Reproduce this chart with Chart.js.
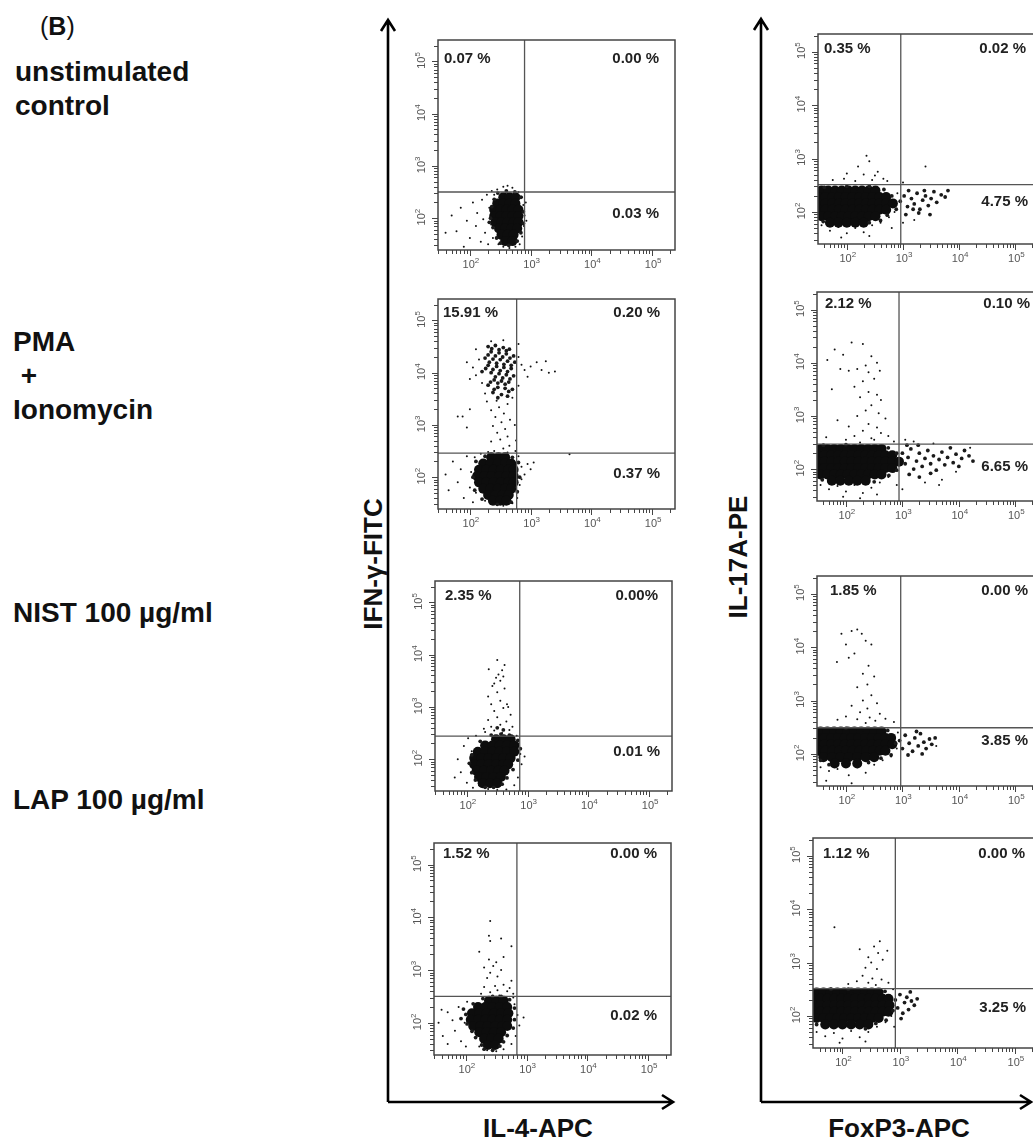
<!DOCTYPE html>
<html>
<head>
<meta charset="utf-8">
<script src="https://cdn.jsdelivr.net/npm/chart.js@4.4.1/dist/chart.umd.min.js"></script>
<style>
  html, body { margin: 0; padding: 0; background: #fff; }
  body { width: 1033px; height: 1142px; position: relative; overflow: hidden;
         font-family: "Liberation Sans", Arial, sans-serif; color: #111; }
  .lbl { position: absolute; font-size: 28px; font-weight: bold; line-height: 34px; white-space: pre; }
  .pct { position: absolute; font-size: 15px; font-weight: bold; line-height: 18px; color: #222;
         white-space: nowrap; width: 90px; }
  .axt { position: absolute; font-size: 26px; font-weight: bold; line-height: 30px; white-space: nowrap; }
  canvas { position: absolute; }
</style>
</head>
<body>
<div class="lbl" style="left:40px;top:11px;font-size:25px;font-weight:normal;line-height:30px">(<b>B</b>)</div>

<svg width="1033" height="1142" style="position:absolute;left:0;top:0">
  <g stroke="#000" stroke-width="2.6" fill="none">
    <path d="M388 1102 V21 M381 31 L388 20 L395 31 M388 1102 H672 M662 1095 L673 1102 L662 1109"/>
    <path d="M761 1102 V20 M754 30 L761 19 L768 30 M761 1102 H1030 M1020 1095 L1031 1102 L1020 1109"/>
  </g>
</svg>

<div class="axt" style="left:373px;top:564px;transform:translate(-50%,-50%) rotate(-90deg)">IFN-γ-FITC</div>
<div class="axt" style="left:738px;top:557px;transform:translate(-50%,-50%) rotate(-90deg)">IL-17A-PE</div>
<div class="axt" style="left:538px;top:1128px;transform:translate(-50%,-50%)">IL-4-APC</div>
<div class="axt" style="left:899px;top:1128px;transform:translate(-50%,-50%)">FoxP3-APC</div>

<script>
// all values are log10 of fluorescence intensity
const treatments = ['unstimulated\ncontrol', 'PMA\n +\nIonomycin', 'NIST 100 µg/ml', 'LAP 100 µg/ml'];
const decadeTicks = [2, 3, 4, 5];

// quadrant percentages: [upper-left, upper-right, lower-right]
const ifnPercents = [['0.07 %', '0.00 %', '0.03 %'], ['15.91 %', '0.20 %', '0.37 %'],
                     ['2.35 %', '0.00%', '0.01 %'], ['1.52 %', '0.00 %', '0.02 %']];
const il17Percents = [['0.35 %', '0.02 %', '4.75 %'], ['2.12 %', '0.10 %', '6.65 %'],
                      ['1.85 %', '0.00 %', '3.85 %'], ['1.12 %', '0.00 %', '3.25 %']];

// quadrant gates [x, y]
const ifnGates = [[2.90, 2.50], [2.77, 2.46], [2.87, 2.44], [2.84, 2.50]];
const il17Gates = [[2.96, 2.51], [2.94, 2.47], [2.97, 2.49], [2.92, 2.51]];

// IFN-gamma (y) vs IL-4 (x). dense cores as rows [y, [x...]]
const ifnCtrlCore = [
  [2.40, [2.55, 2.65, 2.75]], [2.28, [2.45, 2.55, 2.65, 2.75]],
  [2.16, [2.40, 2.50, 2.60, 2.70, 2.80]], [2.04, [2.40, 2.50, 2.60, 2.70, 2.80]],
  [1.92, [2.42, 2.52, 2.62, 2.72, 2.80]], [1.80, [2.48, 2.58, 2.68, 2.78]],
  [1.68, [2.52, 2.62, 2.72]], [1.56, [2.58, 2.70]]];
const ifnCtrlMid = [
  [2.46, 2.48], [2.60, 2.52], [2.74, 2.50], [2.84, 2.40], [2.36, 2.22], [2.88, 2.12], [2.34, 2.00],
  [2.88, 1.90], [2.38, 1.82], [2.84, 1.72], [2.44, 1.62], [2.78, 1.56], [2.50, 1.52], [2.64, 1.48],
  [2.40, 2.36], [2.32, 1.92]];
const ifnCtrlDots = [
  [1.70, 2.05], [1.78, 1.75], [1.85, 2.20], [1.95, 1.95], [2.00, 1.62], [2.05, 2.30], [2.10, 1.85],
  [2.12, 2.10], [2.18, 1.55], [2.20, 2.35], [2.22, 1.98], [2.25, 1.72], [2.28, 2.45], [2.30, 1.50],
  [2.32, 2.20], [2.35, 1.88], [2.36, 2.52], [2.38, 1.62], [2.45, 2.55], [2.55, 2.60], [2.62, 2.62],
  [2.70, 2.58], [2.80, 2.50], [2.86, 2.40], [2.88, 2.25], [2.90, 2.05], [2.89, 1.85], [2.86, 1.65],
  [2.82, 1.50], [2.75, 1.45], [2.65, 1.43], [2.55, 1.45], [2.47, 1.50], [2.44, 1.75], [2.40, 2.45],
  [2.92, 2.30], [2.93, 1.95], [1.60, 1.72], [1.90, 1.45]];

const ifnPmaCore = [
  [2.38, [2.35, 2.47, 2.58]], [2.26, [2.22, 2.34, 2.46, 2.58, 2.68]],
  [2.14, [2.15, 2.27, 2.39, 2.51, 2.63, 2.72]], [2.02, [2.12, 2.24, 2.36, 2.48, 2.60, 2.72]],
  [1.90, [2.15, 2.27, 2.39, 2.51, 2.63, 2.72]], [1.78, [2.22, 2.34, 2.46, 2.58, 2.68]],
  [1.66, [2.30, 2.42, 2.54, 2.64]], [1.55, [2.38, 2.50, 2.60]]];
const ifnPmaMid = [
  [2.30, 4.50], [2.42, 4.52], [2.55, 4.48], [2.65, 4.45], [2.35, 4.40], [2.48, 4.38], [2.60, 4.36],
  [2.72, 4.32], [2.25, 4.28], [2.38, 4.26], [2.50, 4.25], [2.62, 4.22], [2.74, 4.20], [2.30, 4.14],
  [2.44, 4.12], [2.56, 4.10], [2.68, 4.08], [2.20, 4.02], [2.35, 4.00], [2.48, 3.98], [2.60, 3.96],
  [2.72, 3.94], [2.40, 3.86], [2.52, 3.84], [2.64, 3.82], [2.30, 3.76], [2.46, 3.72], [2.58, 3.70],
  [2.70, 3.68], [2.38, 3.62], [2.52, 3.58], [2.62, 3.55],
  [2.36, 4.46], [2.48, 4.44], [2.60, 4.42], [2.30, 4.34], [2.42, 4.32], [2.54, 4.30], [2.66, 4.28],
  [2.32, 4.20], [2.44, 4.18], [2.56, 4.16], [2.68, 4.14], [2.26, 4.08], [2.38, 4.06], [2.50, 4.04],
  [2.62, 4.02], [2.42, 3.92], [2.54, 3.90], [2.66, 3.88], [2.34, 3.82], [2.46, 3.80], [2.58, 3.78],
  [2.40, 3.68], [2.64, 3.64], [2.46, 3.52],
  [2.10, 2.30], [2.05, 2.00], [2.08, 1.75], [2.80, 2.28], [2.82, 2.00], [2.78, 1.72], [2.45, 1.48],
  [2.20, 1.58], [2.68, 1.52], [2.25, 2.40], [2.70, 2.38]];
const ifnPmaDots = [
  [2.40, 2.50], [2.55, 2.55], [2.65, 2.60], [2.35, 2.68], [2.50, 2.72], [2.62, 2.78], [2.45, 2.85],
  [2.58, 2.92], [2.38, 2.98], [2.52, 3.05], [2.66, 3.10], [2.42, 3.15], [2.56, 3.22], [2.35, 3.28],
  [2.48, 3.34], [2.62, 3.40], [2.44, 3.46], [2.70, 3.52], [2.28, 3.45], [2.76, 2.70], [2.74, 3.00],
  [2.05, 4.10], [2.10, 3.95], [2.15, 4.25], [2.20, 3.80], [2.00, 3.88], [2.80, 4.30], [2.85, 4.15],
  [2.90, 4.05], [3.00, 4.12], [3.10, 4.20], [3.18, 4.05], [3.25, 4.22], [3.30, 4.00], [3.40, 4.02],
  [2.95, 3.92], [2.35, 4.60], [2.55, 4.62], [2.80, 4.55], [2.10, 4.45], [1.95, 4.20], [2.25, 3.60],
  [2.80, 3.75], [1.80, 3.16], [1.88, 3.16], [1.95, 2.95], [2.00, 3.30],
  [1.60, 2.05], [1.65, 1.75], [1.72, 2.30], [1.80, 1.90], [1.85, 2.15], [1.90, 1.60], [1.95, 2.40],
  [2.00, 1.80], [2.02, 2.10], [2.05, 1.52], [2.08, 2.38], [2.10, 1.70], [2.80, 2.40], [2.85, 2.20],
  [2.90, 2.05], [2.95, 2.25], [3.00, 2.15], [3.05, 2.28], [2.82, 1.85], [2.78, 1.60], [2.70, 1.50],
  [2.55, 1.45], [2.40, 1.48], [2.25, 1.55], [2.18, 2.45], [2.30, 2.48], [2.62, 2.47], [2.75, 2.50],
  [3.64, 2.44], [2.85, 1.96]];

const ifnNistCore = [
  [2.38, [2.48, 2.60, 2.72]], [2.26, [2.30, 2.42, 2.54, 2.66, 2.78]],
  [2.14, [2.18, 2.30, 2.42, 2.54, 2.66, 2.78]], [2.02, [2.12, 2.24, 2.36, 2.48, 2.60, 2.72]],
  [1.90, [2.12, 2.24, 2.36, 2.48, 2.60, 2.68]], [1.78, [2.16, 2.28, 2.40, 2.52, 2.62]],
  [1.66, [2.20, 2.32, 2.44, 2.56]], [1.54, [2.26, 2.38, 2.50]]];
const ifnNistMid = [
  [2.40, 2.46], [2.56, 2.48], [2.70, 2.46], [2.84, 2.36], [2.22, 2.34], [2.88, 2.20], [2.08, 2.08],
  [2.84, 1.98], [2.04, 1.92], [2.76, 1.80], [2.08, 1.74], [2.66, 1.64], [2.14, 1.60], [2.58, 1.52],
  [2.30, 1.46], [2.44, 1.46], [2.60, 2.56], [2.50, 2.60]];
const ifnNistDots = [
  [2.30, 2.52], [2.45, 2.55], [2.58, 2.50], [2.70, 2.56], [2.40, 2.62], [2.55, 2.66], [2.65, 2.72],
  [2.35, 2.75], [2.50, 2.80], [2.72, 2.85], [2.45, 2.92], [2.60, 2.98], [2.40, 3.05], [2.55, 3.12],
  [2.68, 3.00], [2.35, 3.20], [2.50, 3.28], [2.62, 3.35], [2.45, 3.45], [2.55, 3.50], [2.48, 3.56],
  [2.60, 3.58], [2.52, 3.62], [2.42, 3.40], [2.58, 3.70], [2.36, 3.72], [2.62, 3.80], [2.50, 3.90],
  [2.66, 3.05], [2.75, 2.62], [2.28, 2.58],
  [1.85, 2.00], [1.90, 1.75], [1.95, 2.25], [2.00, 1.55], [2.02, 2.40], [2.05, 1.90], [2.08, 2.15],
  [2.10, 1.45], [2.85, 2.30], [2.88, 2.10], [2.90, 1.90], [2.84, 1.65], [2.78, 1.50], [2.65, 1.42],
  [2.50, 1.41], [2.35, 1.43], [2.20, 1.50], [2.82, 2.45], [2.15, 2.45], [1.80, 1.65], [2.95, 2.05]];

const ifnLapCore = [
  [2.42, [2.38, 2.50, 2.62]], [2.30, [2.20, 2.32, 2.44, 2.56, 2.68]],
  [2.18, [2.10, 2.22, 2.34, 2.46, 2.58, 2.70]], [2.06, [2.08, 2.20, 2.32, 2.44, 2.56, 2.68]],
  [1.94, [2.12, 2.24, 2.36, 2.48, 2.60, 2.68]], [1.82, [2.22, 2.34, 2.46, 2.58]],
  [1.70, [2.30, 2.42, 2.54]], [1.58, [2.36, 2.48]]];
const ifnLapMid = [
  [2.28, 2.46], [2.44, 2.50], [2.58, 2.50], [2.72, 2.44], [2.12, 2.36], [2.80, 2.28], [2.00, 2.16],
  [2.80, 2.06], [2.02, 1.98], [2.78, 1.90], [2.10, 1.84], [2.68, 1.76], [2.16, 1.72], [2.62, 1.64],
  [2.26, 1.58], [2.56, 1.56], [2.30, 1.50], [2.44, 1.48], [1.92, 2.08], [1.96, 2.26]];
const ifnLapDots = [
  [2.25, 2.55], [2.40, 2.58], [2.55, 2.52], [2.68, 2.60], [2.78, 2.55], [2.30, 2.68], [2.48, 2.70],
  [2.62, 2.72], [2.75, 2.80], [2.35, 2.85], [2.52, 2.88], [2.40, 2.95], [2.58, 3.00], [2.45, 3.08],
  [2.30, 3.05], [2.50, 3.15], [2.38, 3.20], [2.62, 3.25], [2.22, 3.35], [2.75, 3.45], [2.40, 3.55],
  [2.38, 3.65], [2.58, 3.60], [2.40, 3.93], [2.52, 2.62], [2.72, 2.66],
  [1.55, 2.00], [1.62, 1.75], [1.70, 2.20], [1.78, 2.05], [1.82, 1.85], [1.88, 2.30], [1.92, 1.65],
  [1.98, 2.00], [2.02, 2.40], [2.00, 1.55], [1.60, 2.25], [1.70, 1.60],
  [2.80, 2.35], [2.85, 2.15], [2.88, 1.95], [2.82, 1.75], [2.75, 1.60], [2.62, 1.50], [2.50, 1.46],
  [2.35, 1.48], [2.22, 1.55], [2.95, 2.10], [2.78, 2.48]];

// IL-17A (y) vs FoxP3 (x)
const il17CtrlCore = [
  [2.40, [1.55, 1.67, 1.79, 1.91, 2.03, 2.15, 2.27, 2.39, 2.51]],
  [2.28, [1.50, 1.62, 1.74, 1.86, 1.98, 2.10, 2.22, 2.34, 2.46, 2.58, 2.70]],
  [2.16, [1.50, 1.62, 1.74, 1.86, 1.98, 2.10, 2.22, 2.34, 2.46, 2.58, 2.70, 2.82]],
  [2.04, [1.50, 1.62, 1.74, 1.86, 1.98, 2.10, 2.22, 2.34, 2.46, 2.58, 2.70]],
  [1.92, [1.55, 1.67, 1.79, 1.91, 2.03, 2.15, 2.27, 2.39, 2.51]],
  [1.80, [1.70, 1.85, 2.00, 2.15, 2.30]]];
const il17CtrlMid = [
  [2.95, 2.20], [3.02, 2.30], [3.08, 2.10], [3.15, 2.25], [3.20, 2.15], [3.25, 2.35], [3.30, 2.05],
  [3.35, 2.22], [3.40, 2.30], [3.45, 2.12], [3.50, 2.25], [3.55, 2.38], [3.60, 2.18], [3.68, 2.32],
  [3.75, 2.28], [3.80, 2.40], [3.10, 2.40], [3.28, 1.98], [3.48, 1.95], [3.05, 1.95], [3.18, 2.05],
  [3.38, 2.40], [2.66, 2.42], [2.80, 2.30], [2.88, 2.05], [2.72, 1.94], [2.60, 1.84], [2.40, 1.80],
  [1.58, 1.82], [1.60, 2.46], [2.00, 2.48], [2.40, 2.48]];
const il17CtrlDots = [
  [1.75, 2.60], [1.95, 2.62], [2.15, 2.58], [2.30, 2.70], [2.45, 2.60], [2.55, 2.75], [2.65, 2.62],
  [2.72, 2.58], [2.20, 2.85], [2.40, 2.95], [2.35, 3.05], [2.50, 2.68], [3.40, 2.85], [2.00, 2.72],
  [3.00, 2.55], [1.55, 1.75], [1.70, 1.65], [1.85, 1.72], [2.00, 1.60], [2.15, 1.70], [2.30, 1.62],
  [2.45, 1.75], [2.60, 1.80], [2.75, 1.90], [2.85, 2.00], [2.90, 2.35], [1.90, 1.52], [2.40, 1.55],
  [2.80, 1.70], [3.20, 1.85], [3.00, 1.80]];

const il17PmaCore = [
  [2.38, [1.55, 1.67, 1.79, 1.91, 2.03, 2.15, 2.27, 2.39, 2.51, 2.63]],
  [2.26, [1.50, 1.62, 1.74, 1.86, 1.98, 2.10, 2.22, 2.34, 2.46, 2.58, 2.70, 2.82]],
  [2.14, [1.50, 1.62, 1.74, 1.86, 1.98, 2.10, 2.22, 2.34, 2.46, 2.58, 2.70, 2.82, 2.94]],
  [2.02, [1.50, 1.62, 1.74, 1.86, 1.98, 2.10, 2.22, 2.34, 2.46, 2.58, 2.70, 2.82]],
  [1.90, [1.55, 1.67, 1.79, 1.91, 2.03, 2.15, 2.27, 2.39, 2.51, 2.63]],
  [1.78, [1.75, 1.90, 2.05, 2.20, 2.35]]];
const il17PmaMid = [
  [3.00, 2.30], [3.05, 2.10], [3.10, 2.22], [3.15, 2.38], [3.20, 2.00], [3.25, 2.15], [3.30, 2.30],
  [3.35, 2.05], [3.40, 2.20], [3.45, 2.35], [3.50, 2.10], [3.55, 2.25], [3.60, 1.98], [3.65, 2.18],
  [3.70, 2.32], [3.75, 2.08], [3.80, 2.22], [3.85, 2.40], [3.90, 2.12], [3.95, 2.28], [4.00, 2.05],
  [4.05, 2.20], [4.10, 2.35], [4.18, 2.25], [4.25, 2.15], [3.12, 1.90], [3.30, 1.85], [3.50, 1.92],
  [3.08, 2.45], [3.28, 2.45], [2.75, 2.40], [2.90, 2.30], [2.90, 1.98], [2.76, 1.88], [1.58, 1.80],
  [1.60, 2.45], [2.00, 2.46], [2.50, 1.76]];
const il17PmaDots = [
  [3.40, 1.75], [3.70, 1.80], [3.95, 1.95], [4.20, 2.40], [3.55, 2.48], [3.20, 2.52], [3.05, 2.55],
  [3.65, 1.70],
  [1.67, 4.05], [1.80, 4.25], [1.95, 4.15], [2.10, 4.38], [2.30, 4.35], [2.45, 4.12], [2.55, 4.00],
  [2.35, 3.95], [2.20, 3.88], [2.05, 3.85], [1.90, 3.88], [2.40, 3.82], [2.60, 3.85], [2.50, 3.70],
  [2.30, 3.65], [2.15, 3.55], [1.75, 3.50], [2.40, 3.45], [2.55, 3.40], [2.25, 3.35], [2.62, 3.30],
  [2.45, 3.20], [2.35, 3.10], [2.58, 3.05], [2.20, 3.00], [2.70, 2.95], [1.85, 2.92], [2.05, 2.80],
  [2.40, 2.85], [2.55, 2.78], [2.30, 2.72], [2.62, 2.68], [1.65, 2.60], [2.15, 2.62], [2.45, 2.58],
  [2.75, 2.62], [2.00, 2.55], [2.85, 2.52], [2.50, 2.55], [2.25, 2.50],
  [1.55, 1.70], [1.70, 1.62], [1.85, 1.68], [2.00, 1.58], [2.15, 1.70], [2.30, 1.55], [2.45, 1.65],
  [2.60, 1.75], [2.75, 1.85], [2.85, 1.95], [1.95, 1.48], [2.25, 1.45], [2.55, 1.52], [2.90, 1.70],
  [3.00, 1.62]];

const il17NistCore = [
  [2.42, [1.55, 1.67, 1.79, 1.91, 2.03, 2.15, 2.27, 2.39, 2.51, 2.63]],
  [2.30, [1.50, 1.62, 1.74, 1.86, 1.98, 2.10, 2.22, 2.34, 2.46, 2.58, 2.70, 2.80]],
  [2.18, [1.50, 1.62, 1.74, 1.86, 1.98, 2.10, 2.22, 2.34, 2.46, 2.58, 2.70, 2.82]],
  [2.06, [1.52, 1.64, 1.76, 1.88, 2.00, 2.12, 2.24, 2.36, 2.48, 2.60, 2.70]],
  [1.94, [1.60, 1.75, 1.90, 2.05, 2.20, 2.35, 2.50]],
  [1.82, [1.80, 2.00, 2.20]]];
const il17NistMid = [
  [2.95, 2.25], [3.00, 2.10], [3.05, 2.35], [3.12, 2.20], [3.18, 2.05], [3.22, 2.30], [3.28, 2.15],
  [3.32, 2.38], [3.38, 2.22], [3.42, 2.10], [3.48, 2.28], [3.52, 2.18], [3.58, 2.30], [3.10, 1.98],
  [3.35, 2.00], [3.25, 2.42], [2.74, 2.44], [2.88, 2.20], [2.80, 1.98], [2.62, 1.92], [1.55, 1.88],
  [1.70, 1.80], [2.40, 1.84], [2.00, 2.48]];
const il17NistDots = [
  [1.84, 3.72], [1.92, 4.25], [2.00, 4.05], [2.10, 4.30], [2.20, 4.33], [2.28, 4.25], [2.35, 4.12],
  [2.15, 3.88], [2.05, 3.80], [2.45, 4.05], [2.40, 3.65], [2.30, 3.50], [2.50, 3.45], [2.38, 3.30],
  [2.20, 3.25], [2.45, 3.10], [2.30, 3.00], [2.55, 2.95], [2.10, 2.90], [2.38, 2.85], [2.25, 2.78],
  [2.60, 2.75], [2.00, 2.70], [2.42, 2.68], [2.20, 2.65], [2.52, 2.62], [1.85, 2.64], [2.70, 2.66],
  [2.35, 2.58], [2.85, 2.60],
  [1.55, 1.75], [1.70, 1.68], [1.85, 1.72], [2.05, 1.60], [2.20, 1.75], [2.35, 1.65], [2.50, 1.80],
  [2.65, 1.88], [2.80, 1.95], [1.65, 1.50], [2.10, 1.45], [2.90, 2.10], [2.92, 2.40], [3.60, 2.15]];

const il17LapCore = [
  [2.44, [1.55, 1.67, 1.79, 1.91, 2.03, 2.15, 2.27, 2.39, 2.51, 2.63]],
  [2.32, [1.50, 1.62, 1.74, 1.86, 1.98, 2.10, 2.22, 2.34, 2.46, 2.58, 2.70, 2.80]],
  [2.20, [1.50, 1.62, 1.74, 1.86, 1.98, 2.10, 2.22, 2.34, 2.46, 2.58, 2.70, 2.82]],
  [2.08, [1.50, 1.62, 1.74, 1.86, 1.98, 2.10, 2.22, 2.34, 2.46, 2.58, 2.70, 2.80]],
  [1.96, [1.55, 1.67, 1.79, 1.91, 2.03, 2.15, 2.27, 2.39, 2.51, 2.63]],
  [1.84, [1.70, 1.85, 2.00, 2.15, 2.30, 2.45]]];
const il17LapMid = [
  [2.92, 2.30], [2.96, 2.15], [3.00, 2.40], [3.05, 2.05], [3.08, 2.25], [3.12, 2.35], [3.15, 2.12],
  [3.20, 2.28], [3.25, 2.20], [3.30, 2.32], [3.02, 1.95], [3.18, 2.45], [2.74, 2.46], [2.88, 2.10],
  [2.76, 1.92], [2.58, 1.86], [1.55, 1.84], [2.40, 1.76], [2.10, 2.50], [1.80, 2.50]];
const il17LapDots = [
  [1.86, 3.66], [2.30, 3.25], [2.45, 3.10], [2.55, 3.30], [2.62, 3.18], [2.70, 3.05], [2.78, 3.22],
  [2.65, 3.40], [2.50, 3.00], [2.40, 2.90], [2.60, 2.88], [2.35, 2.75], [2.52, 2.70], [2.68, 2.68],
  [2.25, 2.65], [2.45, 2.62], [2.80, 2.62], [2.10, 2.60], [2.58, 2.58],
  [1.55, 1.70], [1.70, 1.62], [1.85, 1.68], [2.00, 1.58], [2.15, 1.72], [2.30, 1.60], [2.45, 1.70],
  [2.60, 1.80], [2.75, 1.88], [2.85, 2.00], [1.95, 1.50], [2.40, 1.52], [2.88, 2.50], [2.90, 1.80]];

// ---- layout (pixels) ----
const ifnBoxes = [[438, 39, 676, 250], [438, 298, 676, 509], [435, 580, 673, 791], [434, 842, 672, 1055]];
const il17Boxes = [[818, 33, 1040, 244], [817, 291, 1040, 501], [817, 575, 1040, 786], [813, 837, 1040, 1048]];
// [left x of UL label, label row y, right x of UR label, right x of LR label, LR row y]
const ifnLabelPos = [[444, 58, 659, 659, 213], [443, 312, 660, 660, 473], [445, 595, 658, 660, 751], [443, 853, 657, 657, 1015]];
const il17LabelPos = [[824, 48, 1026, 1028, 201], [825, 303, 1030, 1028, 466], [830, 590, 1028, 1028, 740], [823, 853, 1025, 1026, 1007]];
const treatmentTops = [55, 325, 596, 783];

const ifnRange = {x: [1.475, 5.377], y: [1.39, 5.41]};
const il17Range = {x: [1.487, 5.42], y: [1.40, 5.33]};

const expandRows = rows => rows.flatMap(r => r[1].map(x => ({x: x, y: r[0]})));
const toXY = pts => pts.map(p => ({x: p[0], y: p[1]}));

function drawPow(ctx, cx, baseY, exp) {
  ctx.font = '11px "Liberation Sans", Arial, sans-serif';
  const w1 = ctx.measureText('10').width;
  ctx.font = '8px "Liberation Sans", Arial, sans-serif';
  const w2 = ctx.measureText(String(exp)).width;
  const sx = cx - (w1 + w2) / 2 + 1;
  ctx.font = '11px "Liberation Sans", Arial, sans-serif';
  ctx.fillText('10', sx, baseY);
  ctx.font = '8px "Liberation Sans", Arial, sans-serif';
  ctx.fillText(String(exp), sx + w1, baseY - 5);
}

const facsFrame = {
  id: 'facsFrame',
  afterDatasetsDraw(chart, args, opts) {
    const {ctx, chartArea: a, scales: {x, y}} = chart;
    ctx.save();
    const gx = x.getPixelForValue(opts.gate[0]);
    const gy = y.getPixelForValue(opts.gate[1]);
    ctx.strokeStyle = '#555';
    ctx.lineWidth = 1.3;
    ctx.beginPath();
    ctx.moveTo(gx, a.top); ctx.lineTo(gx, a.bottom);
    ctx.moveTo(a.left, gy); ctx.lineTo(a.right, gy);
    ctx.stroke();
    ctx.strokeStyle = '#444';
    ctx.lineWidth = 1.5;
    ctx.strokeRect(a.left, a.top, a.right - a.left, a.bottom - a.top);

    // log ticks
    ctx.strokeStyle = '#444';
    ctx.lineWidth = 1;
    ctx.beginPath();
    for (let d = 1; d <= 5; d++) {
      for (let k = 1; k <= 9; k++) {
        const v = d + Math.log10(k);
        const len = k === 1 ? 6 : 4;
        if (v >= x.min && v <= x.max) {
          const px = Math.round(x.getPixelForValue(v)) + 0.5;
          ctx.moveTo(px, a.bottom); ctx.lineTo(px, a.bottom + len);
        }
        if (v >= y.min && v <= y.max) {
          const py = Math.round(y.getPixelForValue(v)) + 0.5;
          ctx.moveTo(a.left, py); ctx.lineTo(a.left - len, py);
        }
      }
    }
    ctx.stroke();

    ctx.fillStyle = '#555';
    ctx.textAlign = 'left';
    decadeTicks.forEach(d => {
      if (d >= x.min && d <= x.max) drawPow(ctx, x.getPixelForValue(d), a.bottom + 18, d);
      if (d >= y.min && d <= y.max) {
        ctx.save();
        ctx.translate(a.left - 17, y.getPixelForValue(d));
        ctx.rotate(-Math.PI / 2);
        drawPow(ctx, 0, 4, d);
        ctx.restore();
      }
    });
    ctx.restore();
  }
};

function makePlot(box, range, gate, core, mid, dots) {
  const [l, t, r, b] = box;
  const pad = {left: 32, top: 4, right: 4, bottom: 26};
  const w = r - l + pad.left + pad.right;
  const h = b - t + pad.top + pad.bottom;
  const cv = document.createElement('canvas');
  cv.width = w; cv.height = h;
  cv.style.left = (l - pad.left) + 'px';
  cv.style.top = (t - pad.top) + 'px';
  cv.style.width = w + 'px';
  cv.style.height = h + 'px';
  document.body.appendChild(cv);

  const datasets = [
    {data: toXY(dots), pointRadius: 1, backgroundColor: '#111'},
    {data: toXY(mid), pointRadius: 1.9, backgroundColor: '#1a1a1a'},
    {data: expandRows(core), pointRadius: 5, backgroundColor: '#0d0d0d'}
  ].map(ds => Object.assign(ds, {pointBorderWidth: 0, pointHoverRadius: 0, clip: 0}));

  new Chart(cv, {
    type: 'scatter',
    data: {datasets},
    options: {
      responsive: false,
      animation: false,
      events: [],
      layout: {padding: pad},
      plugins: {legend: {display: false}, tooltip: {enabled: false}, facsFrame: {gate}},
      scales: {
        x: {type: 'linear', min: range.x[0], max: range.x[1], display: false},
        y: {type: 'linear', min: range.y[0], max: range.y[1], display: false}
      }
    },
    plugins: [facsFrame]
  });
}

function addPercents(pos, texts) {
  const [lx, ty, rx1, rx2, by] = pos;
  const items = [[lx, ty, texts[0], 'left'], [rx1 - 90, ty, texts[1], 'right'], [rx2 - 90, by, texts[2], 'right']];
  items.forEach(([x, y, s, align]) => {
    const el = document.createElement('div');
    el.className = 'pct';
    el.style.left = x + 'px';
    el.style.top = (y - 9) + 'px';
    el.style.textAlign = align;
    el.textContent = s;
    document.body.appendChild(el);
  });
}

treatments.forEach((s, i) => {
  const el = document.createElement('div');
  el.className = 'lbl';
  el.style.left = (i === 0 ? 15 : 13) + 'px';
  el.style.top = treatmentTops[i] + 'px';
  el.textContent = s;
  document.body.appendChild(el);
});

const ifnSets = [[ifnCtrlCore, ifnCtrlMid, ifnCtrlDots], [ifnPmaCore, ifnPmaMid, ifnPmaDots],
                 [ifnNistCore, ifnNistMid, ifnNistDots], [ifnLapCore, ifnLapMid, ifnLapDots]];
const il17Sets = [[il17CtrlCore, il17CtrlMid, il17CtrlDots], [il17PmaCore, il17PmaMid, il17PmaDots],
                  [il17NistCore, il17NistMid, il17NistDots], [il17LapCore, il17LapMid, il17LapDots]];

ifnSets.forEach((s, i) => {
  makePlot(ifnBoxes[i], ifnRange, ifnGates[i], s[0], s[1], s[2]);
  addPercents(ifnLabelPos[i], ifnPercents[i]);
});
il17Sets.forEach((s, i) => {
  makePlot(il17Boxes[i], il17Range, il17Gates[i], s[0], s[1], s[2]);
  addPercents(il17LabelPos[i], il17Percents[i]);
});
</script>
</body>
</html>
